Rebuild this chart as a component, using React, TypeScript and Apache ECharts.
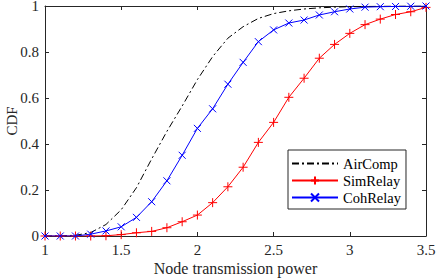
import React, { useEffect, useRef } from "react";
import * as echarts from "echarts";

const xValues = [1.0, 1.1, 1.2, 1.3, 1.4, 1.5, 1.6, 1.7, 1.8, 1.9, 2.0, 2.1, 2.2, 2.3, 2.4, 2.5, 2.6, 2.7, 2.8, 2.9, 3.0, 3.1, 3.2, 3.3, 3.4, 3.5];
const airComp = [0, 0.001, 0.003, 0.015, 0.05, 0.114, 0.21, 0.335, 0.455, 0.565, 0.68, 0.78, 0.86, 0.91, 0.946, 0.967, 0.979, 0.987, 0.992, 0.995, 0.997, 0.998, 0.999, 1, 1, 1];
const simRelay = [0, 0, 0, 0, 0.001, 0.006, 0.014, 0.02, 0.036, 0.062, 0.091, 0.145, 0.214, 0.299, 0.407, 0.494, 0.603, 0.686, 0.773, 0.833, 0.881, 0.919, 0.943, 0.963, 0.975, 0.994];
const cohRelay = [0, 0, 0, 0.008, 0.022, 0.04, 0.081, 0.149, 0.24, 0.351, 0.468, 0.553, 0.66, 0.755, 0.845, 0.896, 0.926, 0.939, 0.961, 0.975, 0.987, 0.995, 0.997, 0.998, 0.999, 1];
const xTicks = { min: 1, max: 3.5, interval: 0.5 };
const yTicks = { min: 0, max: 1, interval: 0.2 };

const FONT = "Liberation Serif";
const AX = "#262626";

const pair = (ys: number[]) => xValues.map((x, i) => [x, ys[i]]);

export default function App() {
  const ref = useRef<HTMLDivElement>(null);
  useEffect(() => {
    if (!ref.current) return;
    const chart = echarts.init(ref.current, undefined, { renderer: "svg" });
    const axisCommon = {
      axisLine: { show: true, onZero: false, lineStyle: { color: AX, width: 1 } },
      axisTick: { show: true, inside: true, length: 4, lineStyle: { color: AX } },
      splitLine: { show: false },
    };
    chart.setOption({
      animation: false,
      backgroundColor: "#fff",
      textStyle: { fontFamily: FONT },
      grid: { left: 45, right: 10, top: 6, bottom: 44, containLabel: false, outerBoundsMode: "none" },
      legend: {
        orient: "vertical",
        left: 288,
        top: 150,
        itemWidth: 46,
        itemHeight: 10,
        itemGap: 2,
        padding: [6, 5, 4, 3],
        backgroundColor: "#fff",
        borderColor: AX,
        borderWidth: 1,
        borderRadius: 0,
        textStyle: { fontFamily: FONT, fontSize: 14.5, color: "#000" },
        data: [
          { name: "AirComp", itemStyle: { opacity: 0 } },
          { name: "SimRelay" },
          { name: "CohRelay" },
        ],
      },
      xAxis: [
        {
          type: "value",
          ...xTicks,
          position: "bottom",
          ...axisCommon,
          axisLabel: { color: AX, fontSize: 15, fontFamily: FONT, margin: 6 },
          name: "Node transmission power",
          nameLocation: "middle",
          nameGap: 24,
          nameMoveOverlap: false,
          nameTextStyle: { color: AX, fontSize: 16, fontFamily: FONT },
        },
        {
          type: "value",
          ...xTicks,
          position: "top",
          ...axisCommon,
          axisLabel: { show: false },
        },
      ],
      yAxis: [
        {
          type: "value",
          ...yTicks,
          position: "left",
          ...axisCommon,
          axisLabel: { color: AX, fontSize: 15, lineHeight: 12, fontFamily: FONT, margin: 6 },
          name: "CDF",
          nameLocation: "middle",
          nameGap: 26,
          nameMoveOverlap: false,
          nameTextStyle: { color: AX, fontSize: 15, fontFamily: FONT },
        },
        {
          type: "value",
          ...yTicks,
          position: "right",
          ...axisCommon,
          axisLabel: { show: false },
        },
      ],
      series: [
        {
          name: "AirComp",
          type: "line",
          data: pair(airComp),
          symbol: "none",
          lineStyle: { color: "#000", width: 1, type: [7, 3, 2, 3] },
          itemStyle: { color: "#000" },
          z: 3,
        },
        {
          name: "SimRelay",
          type: "line",
          data: pair(simRelay),
          symbol: "path://M0,5L10,5M5,0L5,10",
          symbolSize: 9,
          lineStyle: { color: "#ff0000", width: 1 },
          itemStyle: { color: "#ff0000", borderColor: "#ff0000", borderWidth: 1 },
          z: 4,
        },
        {
          name: "CohRelay",
          type: "line",
          data: pair(cohRelay),
          symbol: "path://M0,0L10,10M10,0L0,10",
          symbolSize: 7,
          lineStyle: { color: "#0000ff", width: 1 },
          itemStyle: { color: "#0000ff", borderColor: "#0000ff", borderWidth: 1 },
          z: 5,
        },
      ],
    });
    return () => chart.dispose();
  }, []);
  return <div ref={ref} style={{ width: 436, height: 280, position: "absolute", left: 0, top: 0 }} />;
}
